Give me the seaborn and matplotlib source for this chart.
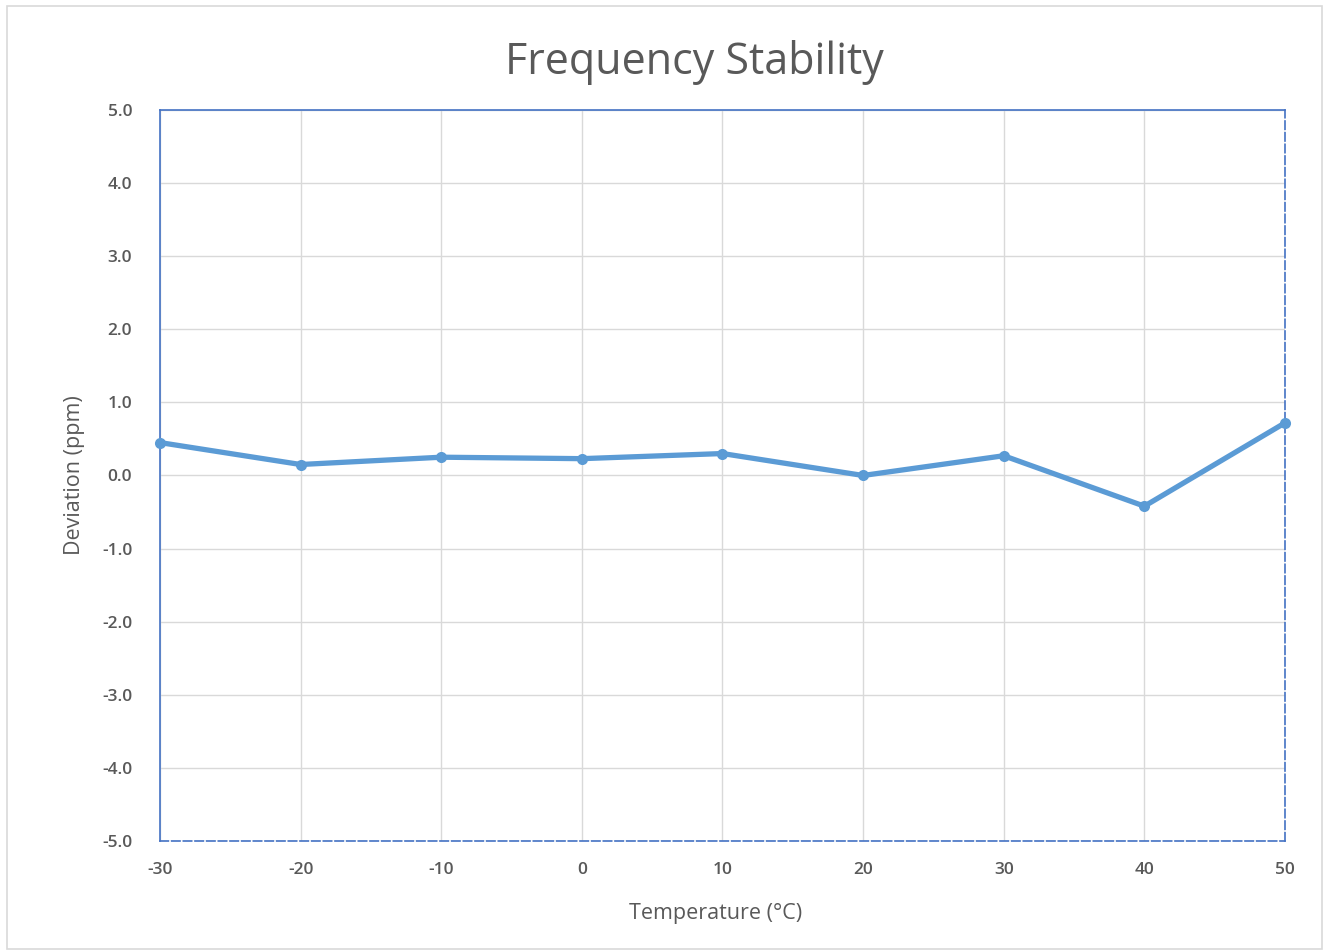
import matplotlib
matplotlib.use("Agg")
import matplotlib.pyplot as plt
from matplotlib.patches import Rectangle
import seaborn as sns
import pandas as pd

# Measured frequency deviation across temperature
temperature_c = [-30, -20, -10, 0, 10, 20, 30, 40, 50]
deviation_ppm = [0.45, 0.15, 0.25, 0.23, 0.30, 0.00, 0.27, -0.42, 0.72]
x_ticks = [-30, -20, -10, 0, 10, 20, 30, 40, 50]
y_ticks = [-5.0, -4.0, -3.0, -2.0, -1.0, 0.0, 1.0, 2.0, 3.0, 4.0, 5.0]

sns.set_theme(style="white")
plt.rcParams["font.family"] = ["Open Sans", "DejaVu Sans"]

df = pd.DataFrame({"Temperature": temperature_c, "Deviation": deviation_ppm})

fig = plt.figure(figsize=(13.33, 9.52), dpi=100)
ax = fig.add_axes([0.12, 0.1166, 0.844, 0.7679])

# light outer chart border
fig.patches.append(Rectangle((0.005, 0.003), 0.987, 0.991, transform=fig.transFigure,
                             fill=False, edgecolor="#D9D9D9", linewidth=1.2))

ax.grid(True, color="#D9D9D9", linewidth=1.0)
ax.set_axisbelow(True)

line_color = "#5B9BD5"
sns.lineplot(data=df, x="Temperature", y="Deviation", ax=ax, color=line_color,
             linewidth=3.8, marker="o", markersize=8, markeredgewidth=0,
             clip_on=False, zorder=5)

ax.set_xlim(-30, 50)
ax.set_ylim(-5, 5)
ax.set_xticks(x_ticks)
ax.set_yticks(y_ticks)
ax.set_xticklabels([str(t) for t in x_ticks])
ax.set_yticklabels([f"{v:.1f}" for v in y_ticks])
ax.tick_params(axis="both", length=0, labelsize=12.5, labelcolor="#595959")
ax.tick_params(axis="x", pad=15)
ax.tick_params(axis="y", pad=20)
for lbl in ax.get_xticklabels() + ax.get_yticklabels():
    lbl.set_fontweight("semibold")

spine_color = "#4472C4"
for side in ["left", "top"]:
    ax.spines[side].set_color(spine_color)
    ax.spines[side].set_linewidth(1.2)
for side in ["right", "bottom"]:
    ax.spines[side].set_color(spine_color)
    ax.spines[side].set_linewidth(1.2)
    ax.spines[side].set_linestyle((0, (5, 2)))

ax.set_xlabel("Temperature (°C)", fontsize=15.5, color="#595959")
ax.xaxis.set_label_coords(0.494, -0.085)
ax.set_ylabel("Deviation (ppm)", fontsize=15.5, color="#595959", labelpad=12)
fig.text(0.5206, 0.934, "Frequency Stability", fontsize=31, color="#595959",
         ha="center", va="center")

fig.savefig("out.png", dpi=100, facecolor="white")
